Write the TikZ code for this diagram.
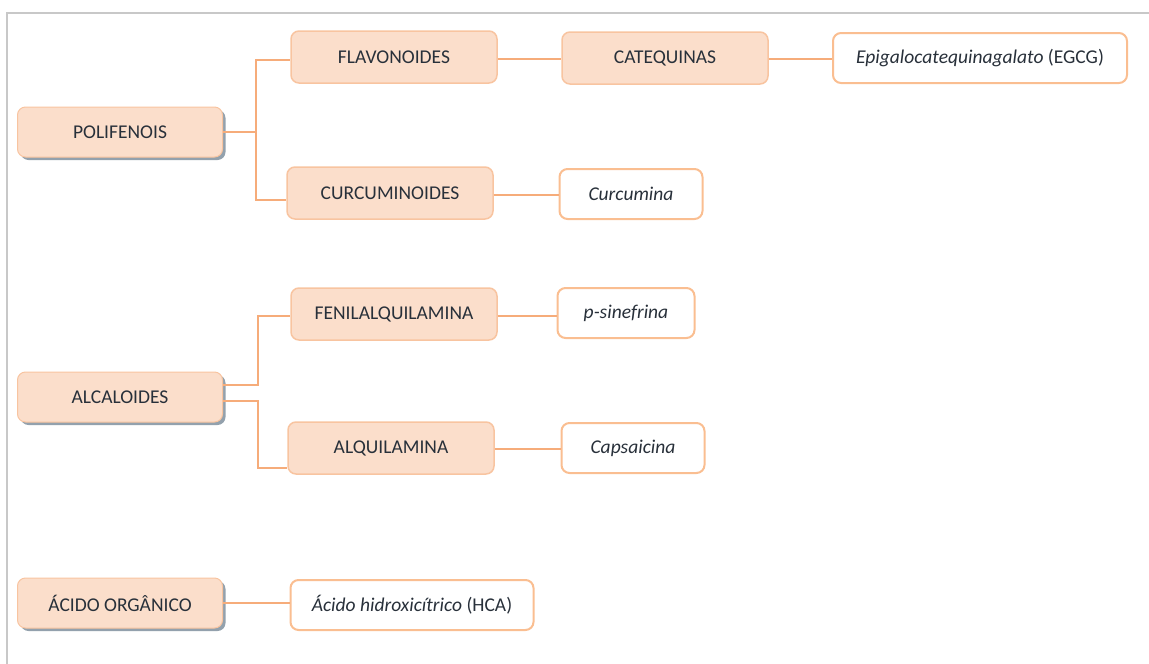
\documentclass[tikz,border=0pt]{standalone}
\usepackage{fontspec}
\setmainfont{Carlito}
\usepackage{tikz}
\usetikzlibrary{positioning,calc,shadows}
\definecolor{ChartPeach}{RGB}{251,222,203}
\definecolor{ChartRim}{RGB}{248,196,160}
\definecolor{ChartOrange}{RGB}{250,190,145}
\definecolor{ChartLine}{RGB}{246,172,122}
\definecolor{ChartText}{RGB}{40,48,58}
\definecolor{ChartShadow}{RGB}{120,138,152}
\definecolor{ChartFrame}{RGB}{200,200,200}

\begin{document}
\begin{tikzpicture}[
    x=1pt,y=-1pt,
    font=\fontsize{19.5}{22}\selectfont,text=ChartText,
    basebox/.style={rounded corners=8pt,inner sep=0pt,align=center},
    topbox/.style={basebox,fill=ChartPeach,draw=ChartRim,line width=1pt,minimum width=205pt,minimum height=50pt,
      drop shadow={shadow xshift=3pt,shadow yshift=-3pt,fill=ChartShadow,opacity=0.8}},
    midbox/.style={basebox,fill=ChartPeach,draw=ChartRim,line width=1.5pt,minimum width=206pt,minimum height=52pt},
    leafbox/.style={basebox,fill=white,draw=ChartOrange,line width=2pt,minimum height=50pt,font=\fontsize{19.5}{22}\selectfont\itshape},
    link/.style={draw=ChartLine,line width=2pt}
  ]
    \useasboundingbox (0,0) rectangle (1149,664);
    \draw[ChartFrame,line width=2pt] (7,664) -- (7,13) -- (1149,13);

    % first column
    \node[topbox] (poli) at (120,132) {POLIFENOIS};
    \node[topbox] (alca) at (120,397) {ALCALOIDES};
    \node[topbox] (acid) at (120,603) {ÁCIDO ORGÂNICO};

    % polifenois
    \node[midbox] (flav) at (394,57) {FLAVONOIDES};
    \node[midbox] (cate) at (665,58) {CATEQUINAS};
    \node[leafbox,minimum width=294pt] (egcg) at (980,58) {Epigalocatequinagalato \textup{(EGCG)}};
    \node[midbox] (curc) at (390,193) {CURCUMINOIDES};
    \node[leafbox,minimum width=143pt] (curcu) at (631,194) {Curcumina};

    % alcaloides
    \node[midbox] (feni) at (394,314) {FENILALQUILAMINA};
    \node[leafbox,minimum width=137pt] (sine) at (626,313) {p-sinefrina};
    \node[midbox] (alqu) at (391,448) {ALQUILAMINA};
    \node[leafbox,minimum width=143pt] (caps) at (633,448) {Capsaicina};

    % acido organico
    \node[leafbox,minimum width=243pt] (hca) at (412,605) {Ácido hidroxicítrico \textup{(HCA)}};

    \coordinate (polij) at ($(poli.east)+(33,0)$);
    \draw[link] (poli.east) -- (polij);
    \draw[link] (polij) |- ($(flav.west)+(0,3)$);
    \draw[link] (polij) |- ($(curc.west)+(0,7)$);
    \draw[link] ($(flav.east)+(0,2)$) -- ($(cate.west)+(0,1)$);
    \draw[link] ($(cate.east)+(0,1)$) -- ($(egcg.west)+(0,1)$);
    \draw[link] ($(curc.east)+(0,2)$) -- ($(curcu.west)+(0,1)$);

    \draw[link] ($(alca.east)+(0,-12)$) -| ($(alca.east)+(35,-12)$) |- ($(feni.west)+(0,2)$);
    \draw[link] ($(alca.east)+(0,4)$) -| ($(alca.east)+(35,4)$) |- ($(alqu.west)+(0,20)$);
    \draw[link] ($(feni.east)+(0,2)$) -- ($(sine.west)+(0,3)$);
    \draw[link] ($(alqu.east)+(0,1)$) -- ($(caps.west)+(0,1)$);

    \draw[link] (acid.east) -- (acid.east -| hca.west);
  \end{tikzpicture}
\end{document}
